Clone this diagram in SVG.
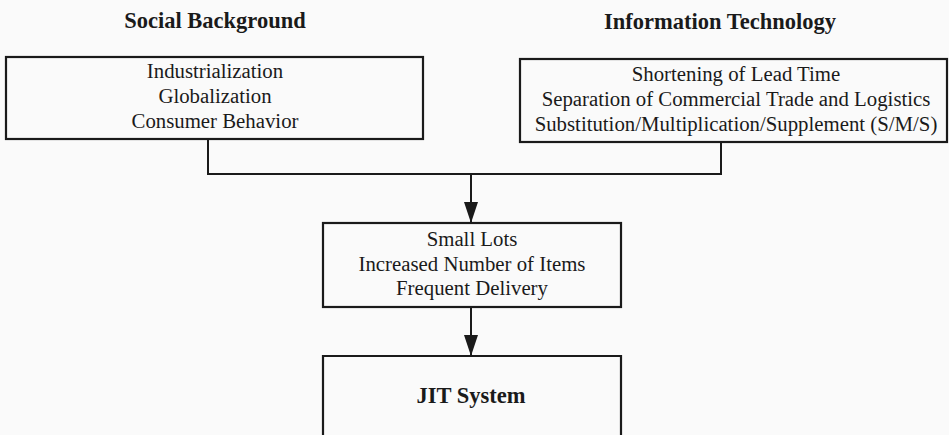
<svg xmlns="http://www.w3.org/2000/svg" width="949" height="435" viewBox="0 0 949 435">
<style>
.box{fill:none;stroke:#1a1a1a;stroke-width:2.2}
.ln{fill:none;stroke:#1a1a1a;stroke-width:2}
.t{font-family:"Liberation Serif","Times New Roman",serif;font-size:20.8px;fill:#1a1a1a;text-anchor:middle}
.h{font-family:"Liberation Serif","Times New Roman",serif;font-size:22.5px;font-weight:bold;fill:#1a1a1a;text-anchor:middle}
</style>
<defs>
<marker id="arr" markerUnits="userSpaceOnUse" markerWidth="22" markerHeight="14" viewBox="0 0 22 14" refX="21" refY="7" orient="auto">
<path d="M0,0 L21,7 L0,14 Z" fill="#1a1a1a"/>
</marker>
</defs>
<rect width="949" height="435" fill="#fafafa"/>
<g id="heading-social"><text class="h" x="215" y="28">Social Background</text></g>
<g id="heading-it"><text class="h" x="720" y="29">Information Technology</text></g>
<g id="social">
<rect class="box" x="6" y="57" width="417" height="82"/>
<text class="t" x="215" y="77.5">Industrialization</text>
<text class="t" x="215" y="102.5">Globalization</text>
<text class="t" x="215" y="127.5">Consumer Behavior</text>
</g>
<g id="it">
<rect class="box" x="520" y="59" width="427" height="83"/>
<text class="t" x="736" y="81">Shortening of Lead Time</text>
<text class="t" x="736" y="106">Separation of Commercial Trade and Logistics</text>
<text class="t" x="736" y="131">Substitution/Multiplication/Supplement (S/M/S)</text>
</g>
<g id="small-lots">
<rect class="box" x="323" y="223" width="298" height="84"/>
<text class="t" x="472" y="245.5">Small Lots</text>
<text class="t" x="472" y="270.5">Increased Number of Items</text>
<text class="t" x="472" y="294.5">Frequent Delivery</text>
</g>
<g id="jit">
<path class="box" d="M323,440 V356 H621 V440"/>
<text class="h" x="471" y="403">JIT System</text>
</g>
<g id="connectors">
<path class="ln" d="M208,139 V174 H721 V142"/>
<path class="ln" d="M471,174 V223" marker-end="url(#arr)"/>
<path class="ln" d="M471,307 V356" marker-end="url(#arr)"/>
</g>
</svg>
